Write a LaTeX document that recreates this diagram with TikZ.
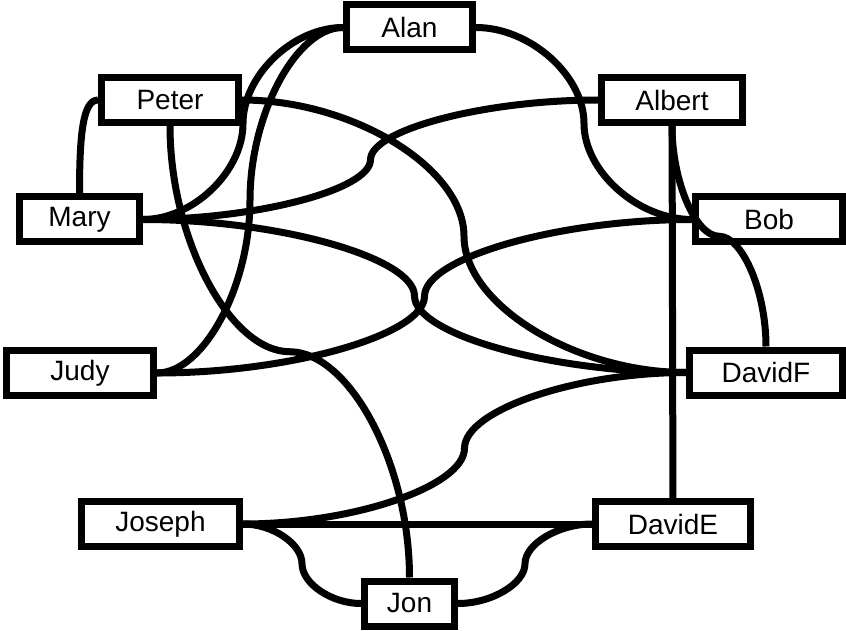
\documentclass[tikz,border=0pt]{standalone}
\usepackage{fontspec}
\setmainfont{Liberation Sans}
\usetikzlibrary{calc}

\begin{document}
\begin{tikzpicture}[x=1pt, y=-1pt,
    pp/.style={draw, line width=7pt, minimum height=45pt, inner sep=0pt,
        font=\fontsize{28}{34}\selectfont},
    link/.style={line width=7pt},
    hcurve/.style={to path={let \p1=(\tikztostart), \p2=(\tikztotarget),
        \p3=($(\p1)!0.5!(\p2)$) in
        .. controls ({\x1+#1*(\x3-\x1)},\y1) and (\x3,{\y3+#1*(\y1-\y3)}) .. (\p3)
        .. controls (\x3,{\y3+#1*(\y2-\y3)}) and ({\x2+#1*(\x3-\x2)},\y2) .. (\p2)}},
    hcurve/.default=0.5,
    vcurve/.style={to path={let \p1=(\tikztostart), \p2=(\tikztotarget),
        \p3=($(\p1)!0.5!(\p2)$) in
        .. controls (\x1,{\y1+#1*(\y3-\y1)}) and ({\x3+#1*(\x1-\x3)},\y3) .. (\p3)
        .. controls ({\x3+#1*(\x2-\x3)},\y3) and (\x2,{\y2+#1*(\y3-\y2)}) .. (\p2)}},
    vcurve/.default=0.5]
    \useasboundingbox (0,0) rectangle (846,631);
    \node[pp, minimum width=126pt] (Alan)   at (409.5,27.5)  {Alan};
    \node[pp, minimum width=137pt] (Peter)  at (170,100)     {Peter};
    \node[pp, minimum width=141pt] (Albert) at (672,100)     {Albert};
    \node[pp, minimum width=120pt] (Mary)   at (79.5,219.5)  {Mary};
    \node[pp, minimum width=147pt] (Bob)    at (769,219.5)   {Bob};
    \node[pp, minimum width=147pt] (Judy)   at (80,373)      {Judy};
    \node[pp, minimum width=153pt] (DavidF) at (766,372.5)   {DavidF};
    \node[pp, minimum width=158pt] (Joseph) at (160.5,524)   {Joseph};
    \node[pp, minimum width=155pt] (DavidE) at (673,524)     {DavidE};
    \node[pp, minimum width=90pt]  (Jon)    at (409.5,603.5) {Jon};
    \draw[link] (Peter.west) .. controls +(-15,0) and +(0,-60) .. (Mary.north);
    \draw[link] (Alan.west) to[hcurve] (Mary.east);
    \draw[link] (Alan.west) to[hcurve] (Judy.east);
    \draw[link] (Alan.east) to[hcurve] (Bob.west);
    \draw[link] (Albert.west) to[hcurve] (Mary.east);
    \draw[link] (Peter.east) to[hcurve] (DavidF.west);
    \draw[link] (Mary.east) to[hcurve] (DavidF.west);
    \draw[link] (Judy.east) to[hcurve] (Bob.west);
    \draw[link] (Joseph.east) to[hcurve] (DavidF.west);
    \draw[link] (Joseph.east) to[hcurve] (Jon.west);
    \draw[link] (Jon.east) to[hcurve] (DavidE.west);
    \draw[link] (Peter.south) to[vcurve] (Jon.north);
    \draw[link] (Albert.south) to[vcurve] (DavidF.north);
    \draw[link] (Albert) -- (DavidE);
    \draw[link] (Joseph) -- (DavidE);
\end{tikzpicture}
\end{document}
